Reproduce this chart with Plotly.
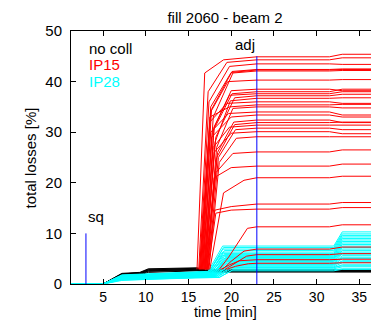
import plotly.graph_objects as go

# ---------------- data ----------------
TITLE = "fill 2060 - beam 2"
X_TICKS = [5, 10, 15, 20, 25, 30, 35]
Y_TICKS = [0, 10, 20, 30, 40, 50]
T_START = 1.25
T_END = 37.3

# no coll (black): level at 7.2, 9.3, 10.3, 16 min and final level
black_lines = [
    (1.7, 1.9, 2.5, 2.7, 2.4),
    (1.8, 2.0, 2.6, 2.8, 2.5),
    (1.9, 2.1, 2.7, 2.9, 2.6),
    (2.0, 2.2, 2.8, 3.0, 2.6),
    (2.0, 2.2, 2.9, 3.1, 2.7),
    (2.1, 2.3, 3.0, 3.2, 2.8),
    (1.6, 1.8, 2.3, 2.6, 2.4),
]

# IP28 (cyan): level at 7 min, at 16 min, rise start, rise end, plateau, final
cyan_lines = [
    (0.7, 1.3, 18.6, 20.0, 2.6, 2.9),
    (0.8, 1.3, 18.6, 20.2, 2.8, 3.0),
    (0.9, 1.4, 18.4, 20.0, 3.0, 3.4),
    (1.0, 1.5, 18.2, 19.8, 3.2, 3.8),
    (1.0, 1.5, 18.0, 19.6, 3.4, 4.2),
    (1.1, 1.6, 17.9, 19.5, 3.6, 4.6),
    (1.1, 1.6, 18.3, 19.8, 3.8, 5.0),
    (1.2, 1.7, 17.8, 19.4, 4.0, 5.3),
    (1.2, 1.7, 18.1, 19.6, 4.2, 5.6),
    (1.3, 1.8, 17.7, 19.3, 4.4, 6.0),
    (1.3, 1.8, 18.0, 19.5, 4.5, 6.3),
    (1.3, 1.9, 17.6, 19.2, 4.7, 6.6),
    (1.4, 1.9, 17.9, 19.4, 4.9, 6.9),
    (1.4, 2.0, 17.5, 19.1, 5.0, 7.2),
    (1.4, 2.0, 17.8, 19.3, 5.2, 7.5),
    (1.5, 2.1, 17.6, 19.2, 5.4, 7.8),
    (1.5, 2.1, 17.4, 19.0, 5.6, 8.1),
    (1.5, 2.2, 17.7, 19.2, 5.8, 8.4),
    (1.6, 2.2, 17.5, 19.1, 6.0, 8.7),
    (1.6, 2.3, 17.3, 19.0, 6.3, 9.0),
    (1.6, 2.3, 17.6, 19.2, 6.6, 9.3),
    (1.7, 2.4, 17.4, 19.0, 6.9, 9.6),
    (1.7, 2.4, 17.5, 19.1, 7.2, 9.9),
    (1.8, 2.5, 17.3, 19.0, 7.5, 10.3),
    (1.0, 1.6, 18.5, 20.0, 3.3, 3.6),
    (1.2, 1.8, 18.2, 19.8, 3.9, 4.4),
    (1.3, 1.9, 18.0, 19.6, 4.6, 5.1),
    (1.4, 2.0, 17.9, 19.5, 5.3, 5.9),
]

# IP15 (red): jump start, knee 1 (t, y), knee 2 (t, y), level at 23 min, final
red_lines = [
    (16.0, 16.9, 41.7, 19.1, 44.3, 44.9, 45.4),
    (16.2, 17.3, 38.0, 19.5, 43.8, 44.3, 44.7),
    (16.3, 17.4, 36.0, 19.8, 43.0, 43.5, 43.4),
    (16.5, 17.6, 35.0, 20.0, 41.8, 42.3, 42.4),
    (16.6, 17.7, 34.5, 20.1, 42.0, 42.4, 42.5),
    (16.7, 17.9, 33.0, 20.2, 41.7, 42.1, 42.2),
    (16.4, 17.6, 34.0, 19.6, 40.0, 40.3, 40.4),
    (16.6, 17.8, 30.0, 20.1, 37.6, 38.0, 38.5),
    (16.9, 18.0, 31.0, 20.0, 38.2, 38.5, 38.2),
    (16.8, 18.0, 31.0, 19.8, 37.3, 37.6, 38.0),
    (16.9, 18.2, 29.0, 20.4, 36.8, 37.2, 37.5),
    (17.0, 18.1, 28.0, 19.9, 36.2, 36.7, 36.8),
    (16.3, 17.5, 32.0, 19.5, 35.7, 36.0, 35.7),
    (16.4, 17.5, 33.0, 19.8, 35.0, 35.4, 35.5),
    (17.1, 18.3, 27.0, 20.2, 34.7, 35.0, 34.8),
    (16.5, 17.6, 30.0, 19.7, 33.7, 34.0, 33.4),
    (16.7, 17.7, 29.0, 20.0, 33.0, 33.4, 33.0),
    (17.2, 18.4, 26.0, 20.3, 32.0, 32.4, 31.9),
    (17.0, 18.3, 25.0, 20.4, 31.5, 31.9, 32.0),
    (16.8, 17.9, 27.0, 19.8, 31.0, 31.4, 31.4),
    (17.3, 18.5, 25.0, 20.5, 30.5, 30.8, 30.5),
    (16.9, 18.0, 26.0, 20.0, 29.8, 30.1, 29.7),
    (17.4, 18.6, 24.0, 20.6, 28.8, 29.1, 29.1),
    (17.0, 18.2, 22.0, 20.2, 25.8, 26.1, 26.5),
    (17.2, 18.0, 21.0, 20.0, 23.0, 23.3, 23.7),
    (17.5, 19.1, 18.0, 21.5, 20.5, 21.0, 21.3),
    (17.1, 18.1, 14.6, 20.0, 15.3, 15.8, 16.1),
    (17.3, 18.2, 14.0, 20.0, 14.6, 14.8, 15.1),
    (18.6, 19.7, 5.3, 21.9, 11.0, 11.3, 11.7),
    (19.0, 20.0, 4.5, 21.5, 6.5, 6.9, 7.3),
    (19.3, 20.3, 4.0, 21.8, 5.5, 5.8, 6.0),
    (18.8, 19.8, 3.8, 21.0, 4.6, 4.8, 4.9),
    (19.5, 20.5, 3.5, 22.0, 4.0, 4.1, 4.2),
]
RED_BASE = 2.9

# markers: (time, top, label)
sq_mark = (3, 10, "sq")
adj_mark = (23, 45, "adj")

legend_items = [("no coll", "black", 46.6), ("IP15", "red", 43.4), ("IP28", "cyan", 40.1)]

# ---------------- figure ----------------
FONT = "Liberation Sans, Arial, Helvetica, sans-serif"
# the page body has an 8px margin; the figure is sized so the plot lands where the reference has it
FIG_W, FIG_H = 371, 313
fig = go.Figure()

def add_line(xs, ys, color):
    fig.add_trace(go.Scatter(x=xs, y=ys, mode="lines",
                             line=dict(color=color, width=1),
                             hoverinfo="skip", showlegend=False))

for b7, b9, b10, b16, bend in black_lines:
    add_line([T_START, 5, 7.2, 9.3, 10.3, 16, 17, T_END + 1],
             [0, 0, b7, b9, b10, b16, bend, bend], "black")

for c7, c16, tr, tm, cmid, cend in cyan_lines:
    add_line([T_START, 5, 7.2, 16, tr, tm, 32, 33, T_END + 1],
             [0, 0, c7, c16, c16, cmid, cmid, cend, cend], "cyan")

for t0, t1, y1, t2, y2, y23, yend in red_lines:
    add_line([t0, t1, t2, 23, 31.5, 33, T_END + 1],
             [RED_BASE, y1, y2, y23, y23, yend, yend], "red")

for t, top, lab in (sq_mark, adj_mark):
    add_line([t, t], [0, top], "blue")

annotations = []
for name, col, yv in legend_items:
    annotations.append(dict(x=3.1, y=yv, xref="x", yref="y", text=name,
                            showarrow=False, xanchor="left", yanchor="middle",
                            font=dict(family=FONT, size=15, color=col)))
annotations.append(dict(x=sq_mark[0], y=13.4, xref="x", yref="y", text=sq_mark[2],
                        showarrow=False, xanchor="left", yanchor="middle",
                        font=dict(family=FONT, size=15, color="black")))
annotations.append(dict(x=adj_mark[0], y=47.3, xref="x", yref="y", text=adj_mark[2],
                        showarrow=False, xanchor="right", yanchor="middle",
                        font=dict(family=FONT, size=15, color="black")))
annotations.append(dict(x=0.5, y=-0.1087, xref="paper", yref="paper", text="time [min]",
                        showarrow=False, xanchor="center", yanchor="middle",
                        font=dict(family=FONT, size=14.5, color="black")))
annotations.append(dict(x=-0.13, y=0.5, xref="paper", yref="paper", text="total losses [%]",
                        showarrow=False, xanchor="center", yanchor="middle", textangle=-90,
                        font=dict(family=FONT, size=15, color="black")))

fig.update_layout(
    width=FIG_W, height=FIG_H, autosize=False,
    margin=dict(l=63, r=0, t=23, b=37, pad=0),
    paper_bgcolor="white", plot_bgcolor="white",
    title=dict(text=TITLE, x=0.5, xref="paper", y=(FIG_H - 9.5) / FIG_H, yref="container",
               xanchor="center", yanchor="middle",
               font=dict(family=FONT, size=15, color="black")),
    annotations=annotations,
    xaxis=dict(range=[T_START, T_END], tickvals=X_TICKS, ticks="inside", ticklen=5,
               tickcolor="black", showline=True, linecolor="black", linewidth=1,
               mirror="ticks", showgrid=False, zeroline=False, ticklabelstandoff=0,
               tickfont=dict(family=FONT, size=14, color="black")),
    yaxis=dict(range=[0, 50], tickvals=Y_TICKS, ticks="inside", ticklen=5,
               tickcolor="black", showline=True, linecolor="black", linewidth=1,
               mirror=False, showgrid=False, zeroline=False, ticklabelstandoff=5,
               tickfont=dict(family=FONT, size=15, color="black")),
)

fig.write_html("out.html", config={"displayModeBar": False})
